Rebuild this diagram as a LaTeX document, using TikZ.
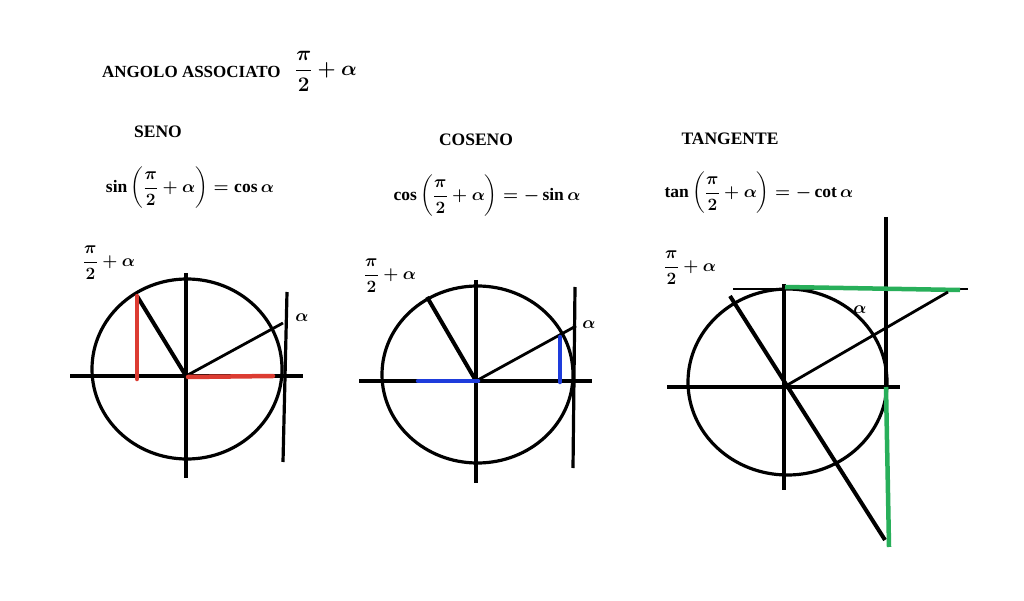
\documentclass[tikz,border=0pt]{standalone}
\usepackage{fontspec}
\usepackage{amsmath}
\setmainfont{Liberation Serif}
\begin{document}
\begin{tikzpicture}[x=1pt,y=-1pt,
  txt/.style={inner sep=0pt,font=\fontsize{17.5}{20}\selectfont\bfseries\boldmath},
  eq/.style={inner sep=0pt,font=\fontsize{17.5}{20}\selectfont\bfseries\boldmath},
  lbl/.style={inner sep=0pt,font=\fontsize{19}{22}\selectfont\boldmath},
  axis/.style={line width=3.2pt},
  thin/.style={line width=2.8pt},
  radius/.style={line width=4pt},
  redseg/.style={line width=4.5pt,color=redc},
  blueseg/.style={line width=4.5pt,color=bluec},
  greenseg/.style={line width=4.5pt,color=greenc}]
\definecolor{redc}{RGB}{220,60,50}
\definecolor{bluec}{RGB}{30,60,220}
\definecolor{greenc}{RGB}{40,175,90}
\useasboundingbox[fill=white] (0,0) rectangle (1024,601);

% titles
\node[txt,anchor=west,font=\fontsize{17}{20}\selectfont\bfseries] (title) at (102,72) {ANGOLO ASSOCIATO};
\node[lbl,font=\fontsize{22}{24}\selectfont\boldmath] (titlemath) at (326,71) {$\dfrac{\pi}{2}+\alpha$};
\node[txt] (seno) at (158,132) {SENO};
\node[txt] (coseno) at (476,140) {COSENO};
\node[txt] (tangente) at (730,139) {TANGENTE};
\node[eq] (eqsin) at (190,188) {$\sin\left(\dfrac{\pi}{2}+\alpha\right)=\cos\alpha$};
\node[eq] (eqcos) at (487,196) {$\cos\left(\dfrac{\pi}{2}+\alpha\right)=-\sin\alpha$};
\node[eq] (eqtan) at (759,193) {$\tan\left(\dfrac{\pi}{2}+\alpha\right)=-\cot\alpha$};

% ---- diagram 1 (sine)
\coordinate (o1) at (186,376);
\draw[axis] (187,369) ellipse [x radius=95, y radius=90];
\draw[axis] (70,376) -- (303,376);
\draw[axis] (186,273) -- (186,478);
\draw[axis] (287,292) -- (283,462);
\draw[thin] (o1) -- (283,323);
\draw[radius] (o1) -- (137,296);
\draw[redseg,line cap=round] (137,296) -- (137,379);
\draw[redseg,line cap=round] (188,377) -- (273,376);
\node[lbl] (a1) at (302,318) {$\alpha$};
\node[lbl] (p1) at (109,263) {$\dfrac{\pi}{2}+\alpha$};

% ---- diagram 2 (cosine)
\coordinate (o2) at (476,381);
\draw[axis] (477.5,374.5) ellipse [x radius=95.5, y radius=88.5];
\draw[axis] (359,381) -- (592,381);
\draw[axis] (476,280) -- (476,483);
\draw[axis] (575,287) -- (573,468);
\draw[thin] (o2) -- (576,326);
\draw[radius] (o2) -- (427,297);
\draw[blueseg,line cap=round] (418,381) -- (478,381);
\draw[blueseg,line cap=round] (560,337) -- (560,382);
\node[lbl] (a2) at (589,325) {$\alpha$};
\node[lbl] (p2) at (390,276) {$\dfrac{\pi}{2}+\alpha$};

% ---- diagram 3 (tangent)
\coordinate (o3) at (784,387);
\draw[axis] (787.5,382) ellipse [x radius=99.5, y radius=93];
\draw[axis] (667,387) -- (900,387);
\draw[axis] (784,284) -- (784,490);
\draw[axis] (886,217) -- (886,387);
\draw[line width=1.8pt] (733,289) -- (968,289);
\draw[greenseg] (785,287) -- (960,290);
\draw[greenseg] (886,387) -- (889,547);
\draw[thin] (o3) -- (948,292);
\draw[radius] (730,296) -- (885,540);
\node[lbl] (a3) at (860,310) {$\alpha$};
\node[lbl] (p3) at (690,268) {$\dfrac{\pi}{2}+\alpha$};
\end{tikzpicture}
\end{document}
